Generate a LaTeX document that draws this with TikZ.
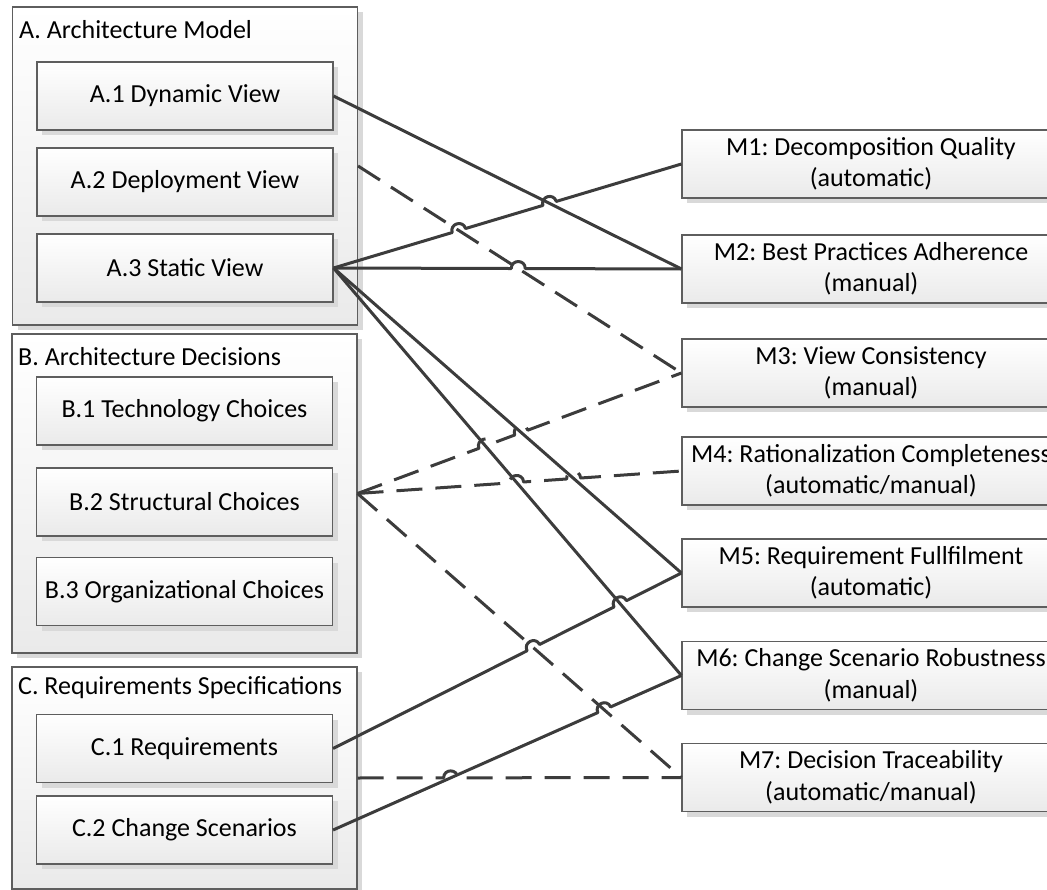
\documentclass[tikz,border=0pt]{standalone}
\usepackage{fontspec}
\setmainfont{Carlito}
\usetikzlibrary{calc,intersections,shadows}
\frenchspacing

\definecolor{edgegray}{HTML}{5E5E5E}
\definecolor{wiregray}{HTML}{3C3C3C}
\definecolor{shadowgray}{HTML}{D9D9D9}
\definecolor{fillbottom}{HTML}{EAEAEA}

\tikzset{
  box/.style={draw=edgegray, line width=1.1pt, rectangle, inner sep=0pt,
    top color=white, bottom color=fillbottom,
    drop shadow={shadow xshift=5pt, shadow yshift=-5pt, fill=shadowgray, opacity=1},
    font=\fontsize{26}{31.5}\selectfont, align=center, text=black},
  itembox/.style={box, minimum width=296pt, minimum height=68pt},
  metricbox/.style={box, minimum width=378pt, minimum height=68pt},
  groupbox/.style={box, minimum width=345pt},
  grouptitle/.style={anchor=west, inner sep=0pt, font=\fontsize{26}{31.5}\selectfont, text=black},
  wire/.style={draw=wiregray, line width=3pt, line join=round},
  dashwire/.style={wire, dash pattern=on 26pt off 13pt},
  hop/.style={bend left=90, looseness=1.7},
}

\begin{document}
\begin{tikzpicture}[x=1pt, y=-1pt]
\useasboundingbox (0,0) rectangle (1047,890);
\clip (0,0) rectangle (1047,890);

% ---- groups ----
\node[groupbox, minimum height=318pt] (GA) at (185,166) {};
\node[grouptitle] (GAt) at (19,30) {A. Architecture Model};
\node[groupbox, minimum height=319pt] (GB) at (184.5,493.5) {};
\node[grouptitle] (GBt) at (18,357) {B. Architecture Decisions};
\node[groupbox, minimum height=222pt] (GC) at (184.5,778) {};
\node[grouptitle] (GCt) at (18,688) {C. Requirements Specifications};

% ---- group items ----
\node[itembox] (A1) at (185,96) {A.1 Dynamic View};
\node[itembox] (A2) at (185,182) {A.2 Deployment View};
\node[itembox] (A3) at (185,268) {A.3 Static View};
\node[itembox] (B1) at (184.5,411) {B.1 Technology Choices};
\node[itembox] (B2) at (184.5,502) {B.2 Structural Choices};
\node[itembox] (B3) at (184.5,591.5) {B.3 Organizational Choices};
\node[itembox] (C1) at (184.5,748.5) {C.1 Requirements};
\node[itembox] (C2) at (184.5,830) {C.2 Change Scenarios};

% ---- metrics ----
\node[metricbox] (M1) at (871,164) {M1: Decomposition Quality\\(automatic)};
\node[metricbox] (M2) at (871,269) {M2: Best Practices Adherence\\(manual)};
\node[metricbox] (M3) at (871,373) {M3: View Consistency\\(manual)};
\node[metricbox] (M4) at (871,471) {M4: Rationalization Completeness\\(automatic/manual)};
\node[metricbox] (M5) at (871,573) {M5: Requirement Fullfilment\\(automatic)};
\node[metricbox] (M6) at (871,675.5) {M6: Change Scenario Robustness\\(manual)};
\node[metricbox] (M7) at (871,777.5) {M7: Decision Traceability\\(automatic/manual)};

% ---- straight connectors ----
\draw[wire, name path=a1m2] (A1.east) -- (M2.west);
\draw[dashwire, name path=agm3] (GA.east) -- (M3.west);
\draw[wire, name path=a3m5] (A3.east) -- (M5.west);
\draw[wire, name path=a3m6] (A3.east) -- (M6.west);
\draw[dashwire, name path=bgm7] (GB.east) -- (M7.west);

% ---- helper paths for crossings ----
\path[name path=a3m1] (A3.east) -- (M1.west);
\path[name path=a3m2] (A3.east) -- (M2.west);
\path[name path=bgm3] (GB.east) -- (M3.west);
\path[name path=bgm4] (GB.east) -- (M4.west);
\path[name path=c1m5] (C1.east) -- (M5.west);
\path[name path=c2m6] (C2.east) -- (M6.west);
\path[name path=cgm7] (GC.east) -- (M7.west);

\path[name intersections={of=a3m1 and agm3, by=h11}];
\path[name intersections={of=a3m1 and a1m2, by=h12}];
\path[name intersections={of=a3m2 and agm3, by=h21}];
\path[name intersections={of=bgm3 and a3m6, by=h31}];
\path[name intersections={of=bgm3 and a3m5, by=h32}];
\path[name intersections={of=bgm4 and a3m6, by=h41}];
\path[name intersections={of=bgm4 and a3m5, by=h42}];
\path[name intersections={of=c1m5 and bgm7, by=h51}];
\path[name intersections={of=c1m5 and a3m6, by=h52}];
\path[name intersections={of=c2m6 and bgm7, by=h61}];
\path[name intersections={of=cgm7 and c2m6, by=h71}];

% ---- connectors with line hops ----
\draw[wire] (A3.east) -- ($(h11)!7pt!(A3.east)$) to[hop] ($(h11)!7pt!(M1.west)$)
  -- ($(h12)!7pt!(A3.east)$) to[hop] ($(h12)!7pt!(M1.west)$) -- (M1.west);
\draw[wire] (A3.east) -- ($(h21)!7pt!(A3.east)$) to[hop] ($(h21)!7pt!(M2.west)$) -- (M2.west);
\draw[dashwire] (GB.east) -- ($(h31)!7pt!(GB.east)$) to[hop] ($(h31)!7pt!(M3.west)$)
  -- ($(h32)!7pt!(GB.east)$) to[hop] ($(h32)!7pt!(M3.west)$) -- (M3.west);
\draw[dashwire] (GB.east) -- ($(h41)!7pt!(GB.east)$) to[hop] ($(h41)!7pt!(M4.west)$)
  -- ($(h42)!7pt!(GB.east)$) to[hop] ($(h42)!7pt!(M4.west)$) -- (M4.west);
\draw[wire] (C1.east) -- ($(h51)!7pt!(C1.east)$) to[hop] ($(h51)!7pt!(M5.west)$)
  -- ($(h52)!7pt!(C1.east)$) to[hop] ($(h52)!7pt!(M5.west)$) -- (M5.west);
\draw[wire] (C2.east) -- ($(h61)!7pt!(C2.east)$) to[hop] ($(h61)!7pt!(M6.west)$) -- (M6.west);
\draw[dashwire] (GC.east) -- ($(h71)!7pt!(GC.east)$) to[hop] ($(h71)!7pt!(M7.west)$) -- (M7.west);
\end{tikzpicture}
\end{document}
